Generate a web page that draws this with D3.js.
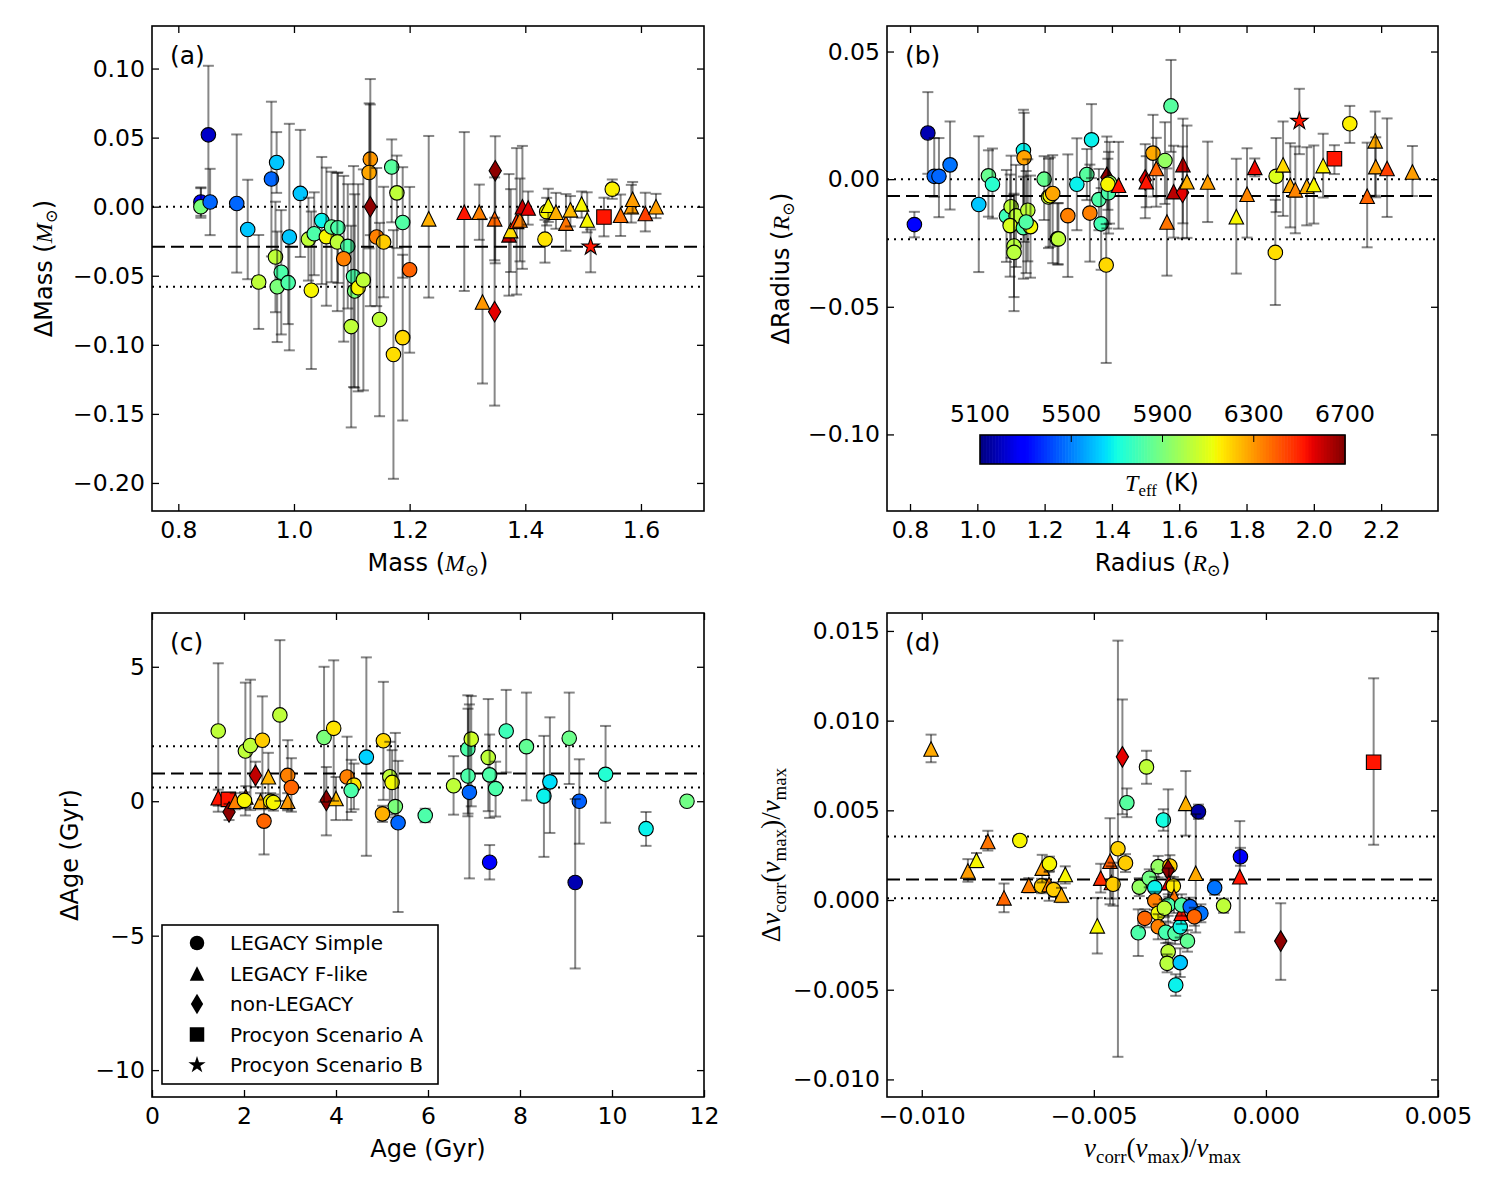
<!DOCTYPE html>
<html><head><meta charset="utf-8">
<script src="https://cdn.jsdelivr.net/npm/d3@7"></script>
<style>body{margin:0;background:#fff}svg{display:block}</style>
</head><body>
<svg id="chart" width="1500" height="1200"></svg>
<script>
// ---------- DATA ----------
// each point: [x, y, errDown, errUp, Teff (K), marker]
// markers: c = LEGACY Simple, t = LEGACY F-like, d = non-LEGACY, s = Procyon A, * = Procyon B
const massPoints = [
 [0.839,0.0034,0.010,0.010,5290,'c'],[0.839,0.000,0.008,0.014,5900,'c'],[0.852,0.052,0.050,0.050,5200,'c'],
 [0.855,0.0034,0.024,0.024,5460,'c'],[0.901,0.0023,0.050,0.050,5460,'c'],[0.920,-0.0165,0.036,0.036,5610,'c'],
 [0.939,-0.0545,0.034,0.034,6030,'c'],[0.961,0.020,0.056,0.056,5460,'c'],[0.970,0.032,0.022,0.022,5610,'c'],
 [0.968,-0.0364,0.040,0.040,6030,'c'],[0.978,-0.0475,0.045,0.045,5810,'c'],[0.971,-0.058,0.040,0.040,5900,'c'],
 [0.990,-0.055,0.030,0.030,5810,'c'],[0.992,-0.022,0.082,0.082,5610,'c'],[1.011,0.0096,0.046,0.046,5610,'c'],
 [1.030,-0.0605,0.057,0.057,6140,'c'],[1.025,-0.0235,0.030,0.030,6030,'c'],[1.035,-0.0196,0.030,0.030,5810,'c'],
 [1.048,-0.010,0.046,0.046,5680,'c'],[1.056,-0.0217,0.050,0.050,6140,'c'],[1.065,-0.0147,0.040,0.040,5850,'c'],
 [1.076,-0.0152,0.040,0.040,5810,'c'],[1.075,-0.0256,0.050,0.050,6030,'c'],[1.093,-0.0287,0.045,0.045,5810,'c'],
 [1.086,-0.0377,0.060,0.060,6340,'c'],[1.103,-0.0506,0.080,0.080,5810,'c'],[1.105,-0.061,0.070,0.070,5900,'c'],
 [1.111,-0.0587,0.075,0.075,6140,'c'],[1.120,-0.053,0.080,0.080,6030,'c'],[1.099,-0.0868,0.073,0.073,6030,'c'],
 [1.132,0.0344,0.055,0.058,6300,'c'],[1.130,0.0248,0.055,0.050,6275,'c'],[1.132,0.000,0.072,0.074,6680,'d'],
 [1.143,-0.022,0.050,0.050,6340,'c'],[1.155,-0.0256,0.040,0.040,6210,'c'],[1.148,-0.0817,0.070,0.070,6030,'c'],
 [1.169,0.0287,0.040,0.020,5830,'c'],[1.178,0.010,0.040,0.027,6030,'c'],[1.188,-0.0114,0.040,0.040,5820,'c'],
 [1.172,-0.107,0.090,0.090,6180,'c'],[1.188,-0.0948,0.060,0.060,6190,'c'],[1.200,-0.0457,0.060,0.060,6390,'c'],
 [1.233,-0.0088,0.057,0.060,6260,'t'],[1.2945,-0.004,0.057,0.058,6520,'t'],[1.3205,-0.004,0.020,0.020,6340,'t'],
 [1.326,-0.069,0.059,0.060,6300,'t'],[1.348,0.026,0.067,0.025,6680,'d'],[1.347,-0.0088,0.030,0.030,6385,'t'],
 [1.347,-0.076,0.068,0.068,6560,'d'],[1.3718,-0.0204,0.044,0.044,6610,'t'],[1.3747,-0.0173,0.030,0.030,6180,'t'],
 [1.385,-0.0106,0.053,0.053,6480,'t'],[1.3908,-0.0096,0.030,0.030,6340,'t'],[1.395,0.000,0.045,0.044,6600,'t'],
 [1.405,-0.001,0.012,0.012,6560,'t'],[1.437,-0.0036,0.010,0.010,6140,'c'],[1.4398,0.001,0.012,0.012,6140,'t'],
 [1.434,-0.0235,0.017,0.014,6170,'c'],[1.453,-0.004,0.012,0.014,6260,'t'],[1.4703,-0.0119,0.020,0.021,6360,'t'],
 [1.478,-0.0023,0.012,0.010,6240,'t'],[1.4974,0.002,0.010,0.009,6140,'t'],[1.507,-0.0096,0.009,0.020,6140,'t'],
 [1.513,-0.029,0.0185,0.0125,6520,'*'],[1.536,-0.0075,0.014,0.014,6520,'s'],[1.5504,0.0127,0.007,0.007,6150,'c'],
 [1.5648,-0.0062,0.015,0.015,6370,'t'],[1.5833,0.000,0.0115,0.0158,6290,'t'],[1.5856,0.0054,0.010,0.0125,6290,'t'],
 [1.6075,-0.0049,0.013,0.015,6450,'t'],[1.626,0.000,0.0083,0.0093,6290,'t']
];
const radiusPoints = [
 [0.813,-0.0178,0.005,0.005,5290,'c'],[0.853,0.0181,0.016,0.016,5170,'c'],[0.872,0.0011,0.008,0.015,5460,'c'],
 [0.886,0.0011,0.016,0.015,5460,'c'],[0.919,0.0056,0.0175,0.017,5480,'c'],[1.0043,-0.0099,0.0265,0.0267,5610,'c'],
 [1.033,0.0013,0.016,0.010,5860,'c'],[1.045,-0.002,0.0134,0.014,5740,'c'],[1.0866,-0.0144,0.018,0.018,5780,'c'],
 [1.1004,-0.0108,0.020,0.020,6030,'c'],[1.115,-0.0144,0.020,0.020,6030,'c'],[1.0975,-0.0182,0.020,0.020,6080,'c'],
 [1.109,-0.0262,0.020,0.020,6020,'c'],[1.109,-0.0287,0.023,0.023,6020,'c'],[1.137,0.0112,0.030,0.016,5680,'c'],
 [1.139,0.0084,0.033,0.0176,6280,'c'],[1.137,-0.019,0.020,0.020,5810,'c'],[1.150,-0.0122,0.020,0.020,6030,'c'],
 [1.158,-0.0186,0.020,0.020,6130,'c'],[1.145,-0.0168,0.020,0.020,5820,'c'],[1.1986,0.000,0.016,0.009,5860,'c'],
 [1.2115,-0.007,0.020,0.015,6030,'c'],[1.2165,-0.0065,0.020,0.015,6140,'c'],[1.224,-0.0056,0.0273,0.015,6275,'c'],
 [1.238,-0.0234,0.010,0.014,5810,'c'],[1.241,-0.0234,0.010,0.014,6030,'c'],[1.269,-0.0143,0.024,0.024,6340,'c'],
 [1.2958,-0.002,0.018,0.018,5680,'c'],[1.3255,0.0018,0.010,0.010,5830,'c'],[1.3394,0.0154,0.015,0.014,5680,'c'],
 [1.3345,-0.0133,0.019,0.019,6340,'c'],[1.3613,-0.008,0.012,0.012,5810,'c'],[1.368,-0.0175,0.018,0.014,5790,'c'],
 [1.383,-0.0336,0.0384,0.016,6190,'c'],[1.385,0.0007,0.020,0.016,6680,'d'],[1.393,-0.0014,0.016,0.016,5950,'c'],
 [1.390,-0.0053,0.016,0.016,5810,'c'],[1.388,-0.002,0.010,0.010,6140,'c'],[1.4197,-0.0024,0.017,0.017,6520,'t'],
 [1.499,-0.0003,0.015,0.014,6560,'d'],[1.502,-0.001,0.010,0.010,6520,'t'],[1.522,0.0102,0.017,0.015,6270,'c'],
 [1.5318,0.0042,0.015,0.012,6385,'t'],[1.5576,0.0073,0.017,0.015,5950,'c'],[1.5755,0.0287,0.018,0.018,5830,'c'],
 [1.5635,-0.0168,0.021,0.021,6360,'t'],[1.5834,-0.0049,0.018,0.018,6620,'t'],[1.611,0.0057,0.023,0.018,6600,'t'],
 [1.610,-0.0052,0.018,0.018,6560,'d'],[1.623,-0.001,0.022,0.022,6260,'t'],[1.6845,-0.0011,0.0157,0.0158,6290,'t'],
 [1.7697,-0.0147,0.0223,0.0227,6140,'t'],[1.8015,-0.0059,0.017,0.018,6330,'t'],[1.8245,0.0046,0.0035,0.0035,6540,'t'],
 [1.888,0.0011,0.014,0.015,6090,'c'],[1.8856,-0.0287,0.0206,0.0206,6180,'c'],[1.957,0.0227,0.0129,0.0127,6520,'*'],
 [1.9086,0.0056,0.020,0.017,6190,'t'],[1.930,-0.0024,0.0165,0.0165,6270,'t'],[1.945,-0.0042,0.017,0.017,6330,'t'],
 [1.979,-0.0028,0.0153,0.0153,6260,'t'],[2.000,-0.0021,0.0153,0.0153,6140,'t'],[2.0277,0.0053,0.0125,0.0125,6150,'t'],
 [2.0612,0.008,0.006,0.0053,6520,'s'],[2.1069,0.0217,0.0075,0.007,6150,'c'],[2.1585,-0.0067,0.020,0.021,6385,'t'],
 [2.1823,0.015,0.0215,0.0115,6270,'t'],[2.184,0.0049,0.012,0.0115,6290,'t'],[2.2177,0.0042,0.019,0.0196,6450,'t'],
 [2.293,0.0028,0.0094,0.0102,6290,'t']
];
const agePoints = [
 [1.44,2.61,3.0,2.52,6030,'c'],[1.44,0.13,0.3,0.3,6520,'t'],[1.66,0.07,0.2,0.2,6520,'s'],[1.675,-0.4,0.3,0.3,6680,'d'],
 [1.81,0.0,0.3,0.3,6340,'t'],[2.03,1.87,2.4,2.54,6030,'c'],[2.14,2.07,2.4,2.45,6030,'c'],[2.04,0.16,0.4,0.4,6340,'t'],
 [2.01,0.03,0.3,0.3,6140,'c'],[2.25,0.96,0.43,0.51,6610,'d'],[2.40,2.27,2.2,1.63,6210,'c'],[2.36,0.0,0.3,0.3,6275,'t'],
 [2.53,0.91,0.9,0.89,6250,'t'],[2.435,-0.74,1.24,0.8,6385,'c'],[2.58,0.0,0.3,0.3,6140,'c'],[2.64,-0.05,0.3,0.3,6140,'c'],
 [2.78,3.21,3.2,2.78,6030,'c'],[2.95,0.96,1.3,1.31,6340,'c'],[2.95,0.0,0.3,0.3,6300,'t'],[3.03,0.51,0.9,1.09,6385,'c'],
 [3.79,0.03,1.3,1.24,6680,'d'],[4.0,0.1,0.8,0.8,6240,'t'],[3.74,2.37,2.4,2.63,5900,'c'],[3.95,2.71,2.7,2.53,6170,'c'],
 [4.24,0.9,1.6,1.5,6340,'c'],[4.39,0.6,0.9,0.8,6170,'c'],[4.33,0.4,0.8,1.14,5810,'c'],[4.66,1.64,3.67,3.71,5630,'c'],
 [5.03,2.25,2.2,2.19,6190,'c'],[5.17,0.91,1.3,1.3,6030,'c'],[5.22,0.7,1.2,1.2,6130,'c'],[5.01,-0.47,0.3,0.3,6260,'c'],
 [5.29,-0.2,0.4,2.74,5900,'c'],[5.35,-0.8,3.32,2.3,5460,'c'],[5.94,-0.53,0.25,0.25,5810,'c'],[6.556,0.575,1.075,1.1,6030,'c'],
 [6.866,1.94,2.5,2.0,5810,'c'],[6.94,2.31,2.5,1.6,6060,'c'],[6.87,0.94,1.4,2.5,5810,'c'],[6.9,0.33,3.2,3.27,5460,'c'],
 [7.31,1.63,2.0,2.17,6030,'c'],[7.34,-2.27,0.64,0.64,5290,'c'],[7.34,0.98,1.6,1.5,5810,'c'],[7.47,0.47,1.04,1.0,5810,'c'],
 [7.7,2.61,1.54,1.53,5780,'c'],[8.14,2.03,2.0,2.01,5850,'c'],[9.07,2.34,1.7,1.7,5870,'c'],[8.52,0.19,2.26,2.24,5680,'c'],
 [8.65,0.72,1.9,2.4,5650,'c'],[9.29,0.0,1.58,1.56,5450,'c'],[9.2,-3.02,3.2,3.1,5170,'c'],[9.86,1.0,1.8,1.8,5730,'c'],
 [10.74,-1.02,0.64,0.62,5680,'c'],[11.63,0.0,0.0,0.0,5880,'c']
];
const numaxPoints = [
 [-0.00973,0.00842,0.00074,0.0008,6270,'t'],[-0.00866,0.00162,0.0006,0.00066,6290,'t'],[-0.00841,0.00222,0.0004,0.0004,6140,'t'],
 [-0.00808,0.00326,0.0005,0.0006,6360,'t'],[-0.00761,0.00012,0.0008,0.0008,6385,'t'],[-0.00715,0.00332,0.0003,0.0003,6140,'c'],
 [-0.00689,0.00082,0.0004,0.0004,6340,'t'],[-0.00652,0.00078,0.0004,0.0004,6210,'c'],[-0.0065,0.00178,0.0008,0.00074,6290,'t'],
 [-0.00629,0.00202,0.0004,0.0004,6140,'c'],[-0.0063,0.00086,0.0009,0.0007,6340,'t'],[-0.00617,0.00058,0.0004,0.0004,6210,'c'],
 [-0.00594,0.00028,0.0004,0.0004,6260,'t'],[-0.00583,0.00142,0.0005,0.00046,6140,'t'],[-0.0049,-0.00144,0.00154,0.00156,6140,'t'],
 [-0.0048,0.00122,0.0008,0.0008,6480,'t'],[-0.00453,0.00216,0.0024,0.0024,6400,'t'],[-0.00449,0.00098,0.0009,0.0009,6480,'t'],
 [-0.00444,0.00088,0.0012,0.0012,6210,'c'],[-0.0043,0.00286,0.0116,0.0116,6200,'c'],[-0.00417,0.00798,0.0032,0.0032,6560,'d'],
 [-0.00408,0.00206,0.0005,0.0005,6210,'c'],[-0.00404,0.00542,0.0008,0.0008,5830,'c'],[-0.00347,0.00742,0.00094,0.0009,6030,'c'],
 [-0.00368,0.00072,0.0005,0.0005,5950,'c'],[-0.00371,-0.00182,0.0013,0.0013,5810,'c'],[-0.00352,-0.00102,0.0005,0.0005,6385,'c'],
 [-0.00313,0.00186,0.0006,0.0006,5950,'c'],[-0.00339,0.00121,0.0005,0.0005,5880,'c'],[-0.00323,0.00069,0.0006,0.0006,5680,'c'],
 [-0.00323,-0.00004,0.0005,0.0005,6340,'c'],[-0.00298,0.00446,0.0006,0.0006,5700,'c'],[-0.00279,0.0019,0.0006,0.0006,6210,'c'],
 [-0.00284,0.00167,0.0045,0.0045,6680,'d'],[-0.00282,0.00097,0.0008,0.0008,6560,'t'],[-0.00269,0.00078,0.0005,0.0005,6160,'c'],
 [-0.00267,0.00018,0.0009,0.0009,6360,'t'],[-0.00284,-0.00028,0.0006,0.0006,5810,'c'],[-0.00313,-0.00074,0.0005,0.0005,6130,'c'],
 [-0.00295,-0.00046,0.0005,0.0005,6030,'c'],[-0.00313,-0.00149,0.0007,0.0007,6340,'c'],[-0.00291,-0.0018,0.0006,0.0006,5800,'c'],
 [-0.00264,-0.00186,0.0006,0.0006,5820,'c'],[-0.00249,-0.00149,0.0006,0.0006,5690,'c'],[-0.00246,-0.00074,0.0006,0.0006,6520,'t'],
 [-0.00245,-0.00028,0.0006,0.0006,5820,'c'],[-0.00228,-0.00228,0.0006,0.0006,5850,'c'],[-0.00284,-0.00288,0.0005,0.0005,6030,'c'],
 [-0.00287,-0.00353,0.0005,0.0005,6020,'c'],[-0.00249,-0.00349,0.0008,0.0008,5610,'c'],[-0.00262,-0.00474,0.0006,0.0006,5680,'c'],
 [-0.00233,0.00539,0.0018,0.0018,6260,'t'],[-0.00196,0.00492,0.0004,0.0004,5150,'c'],[-0.00204,0.00149,0.0033,0.0033,6270,'t'],
 [-0.0022,-0.00037,0.0005,0.0005,5460,'c'],[-0.00189,-0.00074,0.0005,0.0005,5480,'c'],[-0.00208,-0.00093,0.0005,0.0005,6385,'c'],
 [-0.00149,0.00069,0.0004,0.0004,5480,'c'],[-0.00123,-0.00032,0.0004,0.0004,6030,'c'],[-0.00074,0.00241,0.0005,0.0005,5290,'c'],
 [-0.00076,0.0013,0.0031,0.0031,6520,'t'],[0.00043,-0.00229,0.00216,0.00211,6680,'d'],[0.00313,0.00768,0.0046,0.00468,6520,'s']
];
// reference lines: [dashed (mean), dotted, dotted]
const massLines = [-0.029, 0.000, -0.058];
const radiusLines = [-0.0066, 0.000, -0.0235];
const ageLines = [1.03, 2.04, 0.51];
const numaxLines = [0.00115, 0.00354, 0.0001];
// ticks
const massXTicks = [0.8,1.0,1.2,1.4,1.6];
const massYTicks = [-0.20,-0.15,-0.10,-0.05,0.00,0.05,0.10];
const radiusXTicks = [0.8,1.0,1.2,1.4,1.6,1.8,2.0,2.2];
const radiusYTicks = [-0.10,-0.05,0.00,0.05];
const ageXTicks = [0,2,4,6,8,10,12];
const ageYTicks = [-10,-5,0,5];
const numaxXTicks = [-0.010,-0.005,0.000,0.005];
const numaxYTicks = [-0.010,-0.005,0.000,0.005,0.010,0.015];
const teffTicks = [5100,5500,5900,6300,6700];
const teffRange = [5100,6700];
const legendEntries = [['c','LEGACY Simple'],['t','LEGACY F-like'],['d','non-LEGACY'],['s','Procyon Scenario A'],['*','Procyon Scenario B']];

// ---------- HELPERS ----------
const svg = d3.select('#chart');
const SANS = "'DejaVu Sans', sans-serif";
const SERIF = "'Liberation Serif', 'DejaVu Serif', serif";
const MS = 14.5;

const jr = d3.scaleLinear().domain([0,0.35,0.66,0.89,1]).range([0,0,1,1,0.5]).clamp(true);
const jg = d3.scaleLinear().domain([0,0.125,0.375,0.64,0.91,1]).range([0,0,1,1,0,0]).clamp(true);
const jb = d3.scaleLinear().domain([0,0.11,0.34,0.65,1]).range([0.5,1,1,0,0]).clamp(true);
function jet(t){ return d3.rgb(255*jr(t),255*jg(t),255*jb(t)).toString(); }
const teffNorm = d3.scaleLinear().domain(teffRange).range([0,1]).clamp(true);
const teffColor = T => jet(teffNorm(T));

function markerPath(kind, s){
  const h = s/2;
  if(kind==='c') return `M${h},0A${h},${h} 0 1,1 ${-h},0A${h},${h} 0 1,1 ${h},0Z`;
  if(kind==='t') return `M0,${-h}L${h},${h}L${-h},${h}Z`;
  if(kind==='d'){ const a=s*0.7071, w=0.6*a; return `M0,${-a}L${w},0L0,${a}L${-w},0Z`; }
  if(kind==='s') return `M${-h},${-h}h${s}v${s}h${-s}Z`;
  if(kind==='*'){
    const R = h*1.25, ri=R*0.382; let p='';
    for(let i=0;i<10;i++){ const r=i%2?ri:R; const a=-Math.PI/2+i*Math.PI/5;
      p += (i?'L':'M')+(r*Math.cos(a)).toFixed(2)+','+(r*Math.sin(a)).toFixed(2); }
    return p+'Z';
  }
}

function rich(g, x, y, rot, parts, size, anchor){
  const t = g.append('text').attr('transform',`translate(${x},${y}) rotate(${rot})`)
    .attr('text-anchor', anchor||'middle').style('font-size', size+'px');
  let shift = 0;
  parts.forEach(p=>{
    const target = p.sub ? size*0.22 : 0;
    const fs = p.sub ? size*0.7 : size;
    t.append('tspan').attr('dy', target-shift).text(p.t)
      .style('font-size', fs+'px')
      .style('font-family', p.f==='rm' ? SANS : SERIF)
      .style('font-style', p.f==='mi' ? 'italic' : 'normal');
    shift = target;
  });
  return t;
}

const panels = [
  {label:'(a)', pts:massPoints, box:[152,26,704,511], xd:[0.7545,1.709], yd:[-0.2203,0.1308],
   xt:massXTicks, yt:massYTicks, xf:'.1f', yf:'.2f', lines:massLines,
   xl:[{t:'Mass (',f:'rm'},{t:'M',f:'mi'},{t:'⊙',f:'mr',sub:true},{t:')',f:'rm'}],
   yl:[{t:'ΔMass (',f:'rm'},{t:'M',f:'mi'},{t:'⊙',f:'mr',sub:true},{t:')',f:'rm'}], ylx:52, lsize:24},
  {label:'(b)', pts:radiusPoints, box:[887,26,1438,511], xd:[0.7316,2.369], yd:[-0.13,0.06],
   xt:radiusXTicks, yt:radiusYTicks, xf:'.1f', yf:'.2f', lines:radiusLines,
   xl:[{t:'Radius (',f:'rm'},{t:'R',f:'mi'},{t:'⊙',f:'mr',sub:true},{t:')',f:'rm'}],
   yl:[{t:'ΔRadius (',f:'rm'},{t:'R',f:'mi'},{t:'⊙',f:'mr',sub:true},{t:')',f:'rm'}], ylx:789, lsize:24},
  {label:'(c)', pts:agePoints, box:[152,613,704,1097], xd:[0,12], yd:[-11,7],
   xt:ageXTicks, yt:ageYTicks, xf:'d', yf:'d', lines:ageLines,
   xl:[{t:'Age (Gyr)',f:'rm'}], yl:[{t:'ΔAge (Gyr)',f:'rm'}], ylx:78, lsize:24},
  {label:'(d)', pts:numaxPoints, box:[887,613,1438,1097], xd:[-0.01101,0.005], yd:[-0.01098,0.016],
   xt:numaxXTicks, yt:numaxYTicks, xf:'.3f', yf:'.3f', lines:numaxLines,
   xl:[{t:'ν',f:'mi'},{t:'corr',f:'mr',sub:true},{t:'(',f:'mr'},{t:'ν',f:'mi'},{t:'max',f:'mr',sub:true},{t:')/',f:'mr'},{t:'ν',f:'mi'},{t:'max',f:'mr',sub:true}],
   yl:[{t:'Δ',f:'mr'},{t:'ν',f:'mi'},{t:'corr',f:'mr',sub:true},{t:'(',f:'mr'},{t:'ν',f:'mi'},{t:'max',f:'mr',sub:true},{t:')/',f:'mr'},{t:'ν',f:'mi'},{t:'max',f:'mr',sub:true}],
   ylx:780, lsize:27}
];

panels.forEach((P,pi)=>{
  const [x0,y0,x1,y1] = P.box;
  const x = d3.scaleLinear().domain(P.xd).range([x0,x1]);
  const y = d3.scaleLinear().domain(P.yd).range([y1,y0]);
  const g = svg.append('g');
  const clipId = 'clip'+pi;
  g.append('clipPath').attr('id',clipId).append('rect').attr('x',x0).attr('y',y0).attr('width',x1-x0).attr('height',y1-y0);
  const plot = g.append('g').attr('clip-path',`url(#${clipId})`);

  P.lines.forEach((v,i)=>{
    plot.append('line').attr('x1',x0).attr('x2',x1).attr('y1',y(v)).attr('y2',y(v))
      .attr('stroke','#000').attr('stroke-width',2)
      .attr('stroke-dasharray', i===0 ? '13,6' : '2,5');
  });

  P.pts.forEach(d=>{
    const [xv,yv,elo,ehi,T,k] = d;
    const px = x(xv), py = y(yv);
    const gp = plot.append('g');
    if(elo>0 || ehi>0){
      const ya = y(yv-elo), yb = y(yv+ehi);
      const eb = gp.append('g').attr('stroke','#000').attr('stroke-opacity',0.47).attr('stroke-width',2);
      eb.append('line').attr('x1',px).attr('x2',px).attr('y1',ya).attr('y2',yb);
      eb.append('line').attr('x1',px-5.5).attr('x2',px+5.5).attr('y1',ya).attr('y2',ya);
      eb.append('line').attr('x1',px-5.5).attr('x2',px+5.5).attr('y1',yb).attr('y2',yb);
    }
    gp.append('path').attr('d',markerPath(k,MS)).attr('transform',`translate(${px},${py})`)
      .attr('fill',teffColor(T)).attr('stroke','#000').attr('stroke-width',1.1);
  });

  const styleAxis = sel => { sel.select('.domain').remove();
    sel.selectAll('.tick line').attr('stroke','#000').attr('stroke-width',1.3);
    sel.selectAll('text').style('font-family',SANS).style('font-size','23.5px').attr('fill','#000'); };
  g.append('g').attr('transform',`translate(0,${y1})`)
    .call(d3.axisBottom(x).tickValues(P.xt).tickFormat(d3.format(P.xf)).tickSize(-7).tickPadding(10)).call(styleAxis);
  g.append('g').attr('transform',`translate(0,${y0})`)
    .call(d3.axisTop(x).tickValues(P.xt).tickFormat('').tickSize(-7)).call(styleAxis);
  g.append('g').attr('transform',`translate(${x0},0)`)
    .call(d3.axisLeft(y).tickValues(P.yt).tickFormat(d3.format(P.yf)).tickSize(-7).tickPadding(7)).call(styleAxis);
  g.append('g').attr('transform',`translate(${x1},0)`)
    .call(d3.axisRight(y).tickValues(P.yt).tickFormat('').tickSize(-7)).call(styleAxis);

  g.append('rect').attr('x',x0).attr('y',y0).attr('width',x1-x0).attr('height',y1-y0)
    .attr('fill','none').attr('stroke','#000').attr('stroke-width',1.6);

  g.append('text').attr('x',x0+18).attr('y',y0+38).text(P.label)
    .style('font-family',SANS).style('font-size','25px');

  rich(g, (x0+x1)/2, y1+60, 0, P.xl, P.lsize);
  rich(g, P.ylx, (y0+y1)/2, -90, P.yl, P.lsize);
});

// colorbar in panel (b)
{
  const cb = svg.append('g');
  const cx = d3.scaleLinear().domain(teffRange).range([980,1345]);
  const n = 120, step = (teffRange[1]-teffRange[0])/n;
  d3.range(n).forEach(i=>{
    const T0 = teffRange[0]+i*step;
    cb.append('rect').attr('x',cx(T0)).attr('y',435).attr('width',cx(T0+step)-cx(T0)+0.6).attr('height',29)
      .attr('fill',teffColor(T0+step/2));
  });
  cb.append('rect').attr('x',980).attr('y',435).attr('width',365).attr('height',29)
    .attr('fill','none').attr('stroke','#000').attr('stroke-width',1.6);
  teffTicks.forEach(T=>{
    if(T>teffRange[0] && T<teffRange[1]){
      cb.append('line').attr('x1',cx(T)).attr('x2',cx(T)).attr('y1',435).attr('y2',442).attr('stroke','#000').attr('stroke-width',1);
    }
    cb.append('text').attr('x',cx(T)).attr('y',422).attr('text-anchor','middle').text(T)
      .style('font-family',SANS).style('font-size','23.5px');
  });
  rich(cb, 1162, 491, 0, [{t:'T',f:'mi'},{t:'eff',f:'mr',sub:true},{t:' (K)',f:'rm'}], 24);
}

// legend in panel (c)
{
  const lg = svg.append('g');
  lg.append('rect').attr('x',162).attr('y',925).attr('width',276).attr('height',159)
    .attr('fill','#fff').attr('stroke','#000').attr('stroke-width',1.6);
  legendEntries.forEach((e,i)=>{
    const cy = 943 + i*30.5;
    lg.append('path').attr('d',markerPath(e[0], MS)).attr('transform',`translate(197,${cy})`).attr('fill','#000');
    lg.append('text').attr('x',230).attr('y',cy).attr('dy','0.36em').text(e[1])
      .style('font-family',SANS).style('font-size','20px');
  });
}
</script>
</body></html>
